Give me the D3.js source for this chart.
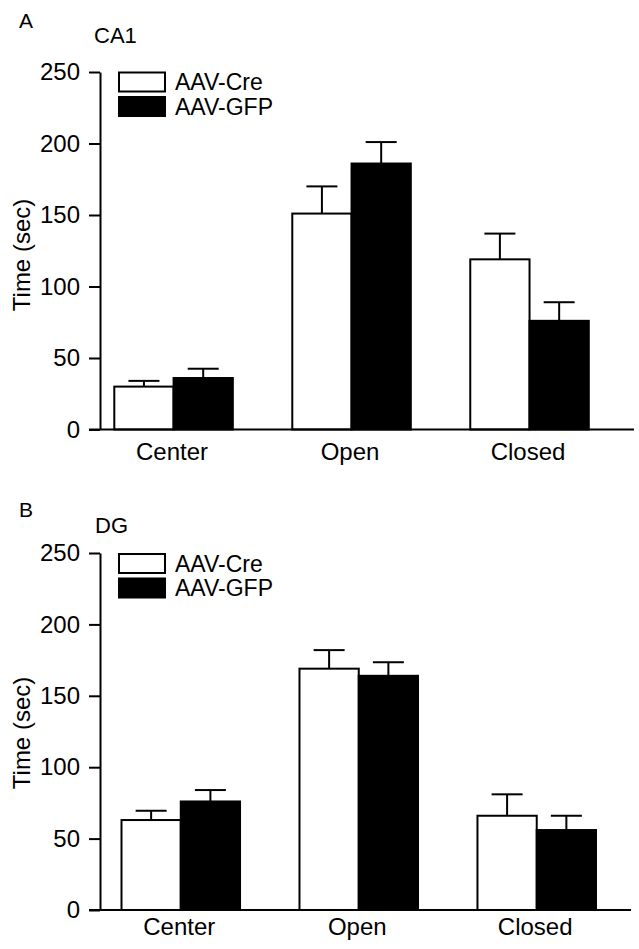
<!DOCTYPE html>
<html>
<head>
<meta charset="utf-8">
<script src="https://cdn.jsdelivr.net/npm/d3@7"></script>
<style>
  html, body { margin: 0; padding: 0; background: #fff; }
  svg { display: block; font-family: "Liberation Sans", Arial, Helvetica, sans-serif; }
</style>
</head>
<body>
<svg id="chart" width="639" height="949"></svg>
<script>
// ---- data ----
const categories = ["Center", "Open", "Closed"];
const seriesNames = ["AAV-Cre", "AAV-GFP"];
const yTicks = [0, 50, 100, 150, 200, 250];

const ca1Cre = [30, 151, 119];
const ca1CreSem = [4, 19, 18];
const ca1Gfp = [36, 186, 76];
const ca1GfpSem = [6.5, 15, 13];

const dgCre = [63, 169, 66];
const dgCreSem = [6.5, 13, 15];
const dgGfp = [76, 164, 56];
const dgGfpSem = [8, 9.5, 10];

const seriesFill = ["#ffffff", "#000000"];

// ---- layout ----
const panels = [
  { letter: "A", title: "CA1", cre: ca1Cre, creSem: ca1CreSem, gfp: ca1Gfp, gfpSem: ca1GfpSem,
    y0: 429.5, y1: 72, xStart: 114.3, xStop: 588.8, axisEnd: 634,
    letterPos: [19, 28.3], titlePos: [94, 42.7], legendTop: 72.5, catBaseline: 460, ylabelCenter: 255 },
  { letter: "B", title: "DG", cre: dgCre, creSem: dgCreSem, gfp: dgGfp, gfpSem: dgGfpSem,
    y0: 910, y1: 553, xStart: 121.5, xStop: 596, axisEnd: 631,
    letterPos: [19, 516.7], titlePos: [95, 533.3], legendTop: 554, catBaseline: 935, ylabelCenter: 733 }
];

const axisX = 100;
const svg = d3.select("#chart");

panels.forEach(p => {
  const g = svg.append("g");

  const y = d3.scaleLinear().domain([0, 250]).range([p.y0, p.y1]);
  const x = d3.scaleBand().domain(categories).range([p.xStart, p.xStop])
    .paddingInner(0.334).paddingOuter(0);
  const xs = d3.scaleBand().domain(seriesNames).range([0, x.bandwidth()]).padding(0);

  const rows = [];
  categories.forEach((c, i) => {
    rows.push({ cat: c, s: seriesNames[0], v: p.cre[i], e: p.creSem[i], fill: seriesFill[0] });
    rows.push({ cat: c, s: seriesNames[1], v: p.gfp[i], e: p.gfpSem[i], fill: seriesFill[1] });
  });

  // error bars (upward) - drawn first so bar top covers base
  const eg = g.append("g").attr("stroke", "#000").attr("stroke-width", 2);
  rows.forEach(r => {
    const cx = x(r.cat) + xs(r.s) + xs.bandwidth() / 2;
    eg.append("line").attr("x1", cx).attr("x2", cx).attr("y1", y(r.v)).attr("y2", y(r.v + r.e));
    eg.append("line").attr("x1", cx - 15.5).attr("x2", cx + 15.5).attr("y1", y(r.v + r.e)).attr("y2", y(r.v + r.e));
  });

  // bars
  g.append("g").selectAll("rect").data(rows).join("rect")
    .attr("x", d => x(d.cat) + xs(d.s))
    .attr("y", d => y(d.v))
    .attr("width", xs.bandwidth())
    .attr("height", d => y(0) - y(d.v))
    .attr("fill", d => d.fill)
    .attr("stroke", "#000")
    .attr("stroke-width", 2);

  // y axis
  const yAxis = g.append("g").attr("transform", `translate(${axisX},0)`)
    .call(d3.axisLeft(y).tickValues(yTicks).tickSize(11).tickSizeOuter(0).tickPadding(9));
  yAxis.select(".domain").attr("stroke", "#000").attr("stroke-width", 2);
  yAxis.selectAll(".tick line").attr("stroke", "#000").attr("stroke-width", 2);
  yAxis.selectAll(".tick text").attr("font-size", 24).attr("fill", "#000")
    .attr("font-family", "Liberation Sans, Arial, sans-serif");

  // x axis baseline
  g.append("line").attr("x1", axisX - 11).attr("x2", p.axisEnd)
    .attr("y1", y(0)).attr("y2", y(0)).attr("stroke", "#000").attr("stroke-width", 2);

  // category labels
  g.append("g").selectAll("text").data(categories).join("text")
    .attr("x", d => x(d) + x.bandwidth() / 2 - 1.5)
    .attr("y", p.catBaseline)
    .attr("text-anchor", "middle")
    .attr("font-size", 24)
    .text(d => d);

  // y label
  g.append("text")
    .attr("transform", `translate(30,${p.ylabelCenter}) rotate(-90)`)
    .attr("text-anchor", "middle")
    .attr("font-size", 24)
    .text("Time (sec)");

  // panel letter and title
  g.append("text").attr("x", p.letterPos[0]).attr("y", p.letterPos[1]).attr("font-size", 21).text(p.letter);
  g.append("text").attr("x", p.titlePos[0]).attr("y", p.titlePos[1]).attr("font-size", 22).text(p.title);

  // legend
  const lg = g.append("g");
  seriesNames.forEach((s, i) => {
    const top = p.legendTop + i * 24.5;
    lg.append("rect").attr("x", 119).attr("y", top).attr("width", 46).attr("height", 19)
      .attr("fill", seriesFill[i]).attr("stroke", "#000").attr("stroke-width", 2);
    lg.append("text").attr("x", 175).attr("y", top + 17.5).attr("font-size", 23).text(s);
  });
});
</script>
</body>
</html>
